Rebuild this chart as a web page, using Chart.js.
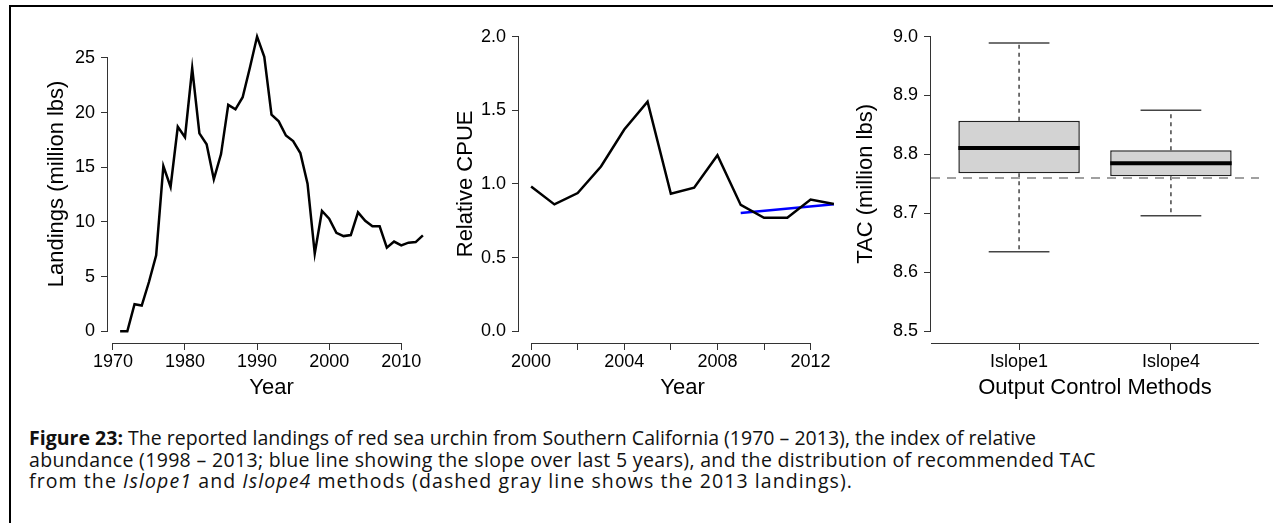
<!DOCTYPE html>
<html>
<head>
<meta charset="utf-8">
<script src="https://cdn.jsdelivr.net/npm/chart.js@4.4.1/dist/chart.umd.min.js"></script>
<style>
  html, body { margin: 0; padding: 0; background: #fff; }
  body { width: 1273px; height: 523px; position: relative; overflow: hidden; }
  .frame {
    position: absolute; left: 9px; top: 5px; right: 0; bottom: 0;
    border-top: 2px solid #000; border-left: 2px solid #000;
  }
  canvas { position: absolute; top: 8px; }
  #landingsChart { left: 12px; }
  #cpueChart { left: 423px; }
  #tacChart { left: 835px; }
  .caption {
    position: absolute; left: 29px; top: 427px;
    font-family: "Open Sans", Lato, sans-serif; font-size: 19.5px; line-height: 21.7px;
    color: #111; white-space: nowrap;
  }
  .caption span { display: block; width: max-content; }
</style>
</head>
<body>
<div class="frame"></div>
<canvas id="landingsChart" width="427" height="395"></canvas>
<canvas id="cpueChart" width="427" height="395"></canvas>
<canvas id="tacChart" width="428" height="395"></canvas>
<div class="caption">
  <span><b>Figure 23:</b> The reported landings of red sea urchin from Southern California (1970 – 2013), the index of relative</span>
  <span>abundance (1998 – 2013; blue line showing the slope over last 5 years), and the distribution of recommended TAC</span>
  <span>from the <i>Islope1</i> and <i>Islope4</i> methods (dashed gray line shows the 2013 landings).</span>
</div>
<script>
/* ===============================
   DATA
================================ */
const landingYears = [1971, 1972, 1973, 1974, 1975, 1976, 1977, 1978, 1979, 1980, 1981, 1982, 1983, 1984, 1985,
  1986, 1987, 1988, 1989, 1990, 1991, 1992, 1993, 1994, 1995, 1996, 1997, 1998, 1999, 2000, 2001, 2002, 2003,
  2004, 2005, 2006, 2007, 2008, 2009, 2010, 2011, 2012, 2013];
const landings = [0, 0, 2.47, 2.35, 4.5, 6.94, 15.1, 13.2, 18.7, 17.75, 24.05, 18.1, 17.1, 13.9, 16.2,
  20.7, 20.3, 21.4, 24.1, 26.95, 25.1, 19.8, 19.2, 17.9, 17.4, 16.3, 13.5, 7.1, 11.0, 10.3, 9.0, 8.7, 8.8,
  10.87, 10.1, 9.6, 9.6, 7.64, 8.2, 7.85, 8.1, 8.15, 8.77];
const landingXTicks = [1970, 1980, 1990, 2000, 2010];
const landingYTicks = [0, 5, 10, 15, 20, 25];

const cpueYears = [2000, 2001, 2002, 2003, 2004, 2005, 2006, 2007, 2008, 2009, 2010, 2011, 2012, 2013];
const cpue = [0.983, 0.861, 0.938, 1.118, 1.369, 1.558, 0.933, 0.974, 1.195, 0.857, 0.77, 0.77, 0.894, 0.864];
const slopeYears = [2009, 2013];
const slopeValues = [0.803, 0.862];
const cpueXTicks = [2000, 2002, 2004, 2006, 2008, 2010, 2012];
const cpueXLabels = [2000, 2004, 2008, 2012];
const cpueYTicks = [0, 0.5, 1.0, 1.5, 2.0];

const methods = ['Islope1', 'Islope4'];
const tacLower = [8.635, 8.696];
const tacQ1 = [8.768, 8.763];
const tacMedian = [8.811, 8.785];
const tacQ3 = [8.857, 8.807];
const tacUpper = [8.989, 8.875];
const landings2013 = 8.76;
const tacYTicks = [8.5, 8.6, 8.7, 8.8, 8.9, 9.0];

/* ===============================
   CAPTION FIT (line widths as in the figure)
================================ */
const captionWidths = [1007, 1067, 824];
document.querySelectorAll('.caption span').forEach((el, i) => {
  const w = el.getBoundingClientRect().width;
  const n = el.textContent.length;
  el.style.letterSpacing = ((captionWidths[i] - w) / n).toFixed(3) + 'px';
});

/* ===============================
   SHARED LOOK
================================ */
Chart.defaults.font.family = "'Liberation Sans', Arial, sans-serif";
Chart.defaults.color = '#000';

const AXIS = '#333';
const BOX_HALF = 0.4;
const CAP_HALF = 0.2;
const TICK_FONT = { family: "'Liberation Sans', Arial, sans-serif", size: 18 };
const TITLE_FONT = { family: "'Liberation Sans', Arial, sans-serif", size: 22 };

// R style axis lines: only from first to last tick
const rAxisLines = {
  id: 'rAxisLines',
  afterDraw(chart, args, opts) {
    const { ctx, chartArea } = chart;
    const xs = chart.scales.x;
    const ys = chart.scales.y;
    const yPix = ys.ticks.map((t) => ys.getPixelForValue(t.value));
    const xPix = xs.ticks.map((t) => xs.getPixelForValue(t.value));
    const left = Math.round(chartArea.left) - 0.5;
    const bottom = Math.round(chartArea.bottom) + 0.5;
    ctx.save();
    ctx.strokeStyle = AXIS;
    ctx.lineWidth = 1;
    ctx.beginPath();
    ctx.moveTo(left, Math.min(...yPix));
    ctx.lineTo(left, Math.max(...yPix));
    if (opts.fullX) {
      ctx.moveTo(chartArea.left, bottom);
      ctx.lineTo(chartArea.right, bottom);
    } else {
      ctx.moveTo(Math.min(...xPix), bottom);
      ctx.lineTo(Math.max(...xPix), bottom);
    }
    ctx.stroke();
    ctx.restore();
  },
};

function xAxis(min, max, ticks, label, fmt) {
  return {
    type: 'linear',
    min: min,
    max: max,
    offset: false,
    afterBuildTicks: (s) => { s.ticks = ticks.map((v) => ({ value: v })); },
    afterFit: (s) => { s.height = 60; },
    border: { display: false },
    grid: { offset: false, drawOnChartArea: false, tickLength: 7, color: AXIS },
    ticks: { autoSkip: false, maxRotation: 0, padding: 1, font: TICK_FONT, color: '#000', callback: fmt },
    title: { display: true, text: label, font: TITLE_FONT, color: '#000', padding: { top: 0, bottom: 2 } },
  };
}

function yAxis(min, max, ticks, label, fmt, titleGap) {
  return {
    type: 'linear',
    min: min,
    max: max,
    afterBuildTicks: (s) => { s.ticks = ticks.map((v) => ({ value: v })); },
    afterFit: (s) => { s.width = 96; },
    border: { display: false },
    grid: { drawOnChartArea: false, tickLength: 7, color: AXIS },
    ticks: { padding: 6, font: TICK_FONT, color: '#000', callback: fmt },
    title: { display: true, text: label, font: TITLE_FONT, color: '#000', padding: { top: titleGap, bottom: 0 } },
  };
}

function baseOptions(fullX) {
  return {
    responsive: false,
    animation: false,
    devicePixelRatio: 1,
    layout: { padding: { top: 16, right: 4, left: 0, bottom: 0 } },
    plugins: { legend: { display: false }, tooltip: { enabled: false }, rAxisLines: { fullX: fullX } },
  };
}

// R pads every axis range by 4%
function padRange(lo, hi) {
  const d = (hi - lo) * 0.04;
  return [lo - d, hi + d];
}

/* ===============================
   LANDINGS
================================ */
const lx = padRange(landingYears[0], landingYears[landingYears.length - 1]);
const ly = padRange(0, Math.max(...landings));

new Chart(document.getElementById('landingsChart'), {
  type: 'line',
  data: {
    datasets: [{
      data: landingYears.map((yr, i) => ({ x: yr, y: landings[i] })),
      borderColor: '#000',
      borderWidth: 2.5,
      pointRadius: 0,
      tension: 0,
    }],
  },
  options: {
    ...baseOptions(false),
    scales: {
      x: xAxis(lx[0], lx[1], landingXTicks, 'Year', (v) => String(v)),
      y: yAxis(ly[0], ly[1], landingYTicks, 'Landings (million lbs)', (v) => String(v), 32),
    },
  },
  plugins: [rAxisLines],
});

/* ===============================
   RELATIVE CPUE
================================ */
const cx = padRange(cpueYears[0], cpueYears[cpueYears.length - 1]);
const cy = padRange(0, 2);

new Chart(document.getElementById('cpueChart'), {
  type: 'line',
  data: {
    datasets: [
      {
        data: cpueYears.map((yr, i) => ({ x: yr, y: cpue[i] })),
        borderColor: '#000',
        borderWidth: 2.5,
        pointRadius: 0,
        tension: 0,
      },
      {
        data: slopeYears.map((yr, i) => ({ x: yr, y: slopeValues[i] })),
        borderColor: '#0000ff',
        borderWidth: 2.5,
        pointRadius: 0,
      },
    ],
  },
  options: {
    ...baseOptions(false),
    scales: {
      x: xAxis(cx[0], cx[1], cpueXTicks, 'Year', (v) => (cpueXLabels.includes(v) ? String(v) : '')),
      y: yAxis(cy[0], cy[1], cpueYTicks, 'Relative CPUE', (v) => v.toFixed(1), 30),
    },
  },
  plugins: [rAxisLines],
});

/* ===============================
   TAC BOXPLOTS
================================ */
const bx = padRange(0.5, methods.length + 0.5);
const by = padRange(8.5, 9.0);

function segments(list) {
  // list of [x1, y1, x2, y2] -> points with gaps
  const pts = [];
  list.forEach((s) => {
    pts.push({ x: s[0], y: s[1] }, { x: s[2], y: s[3] }, { x: s[2], y: null });
  });
  return pts;
}

const whiskerSegs = [];
const capSegs = [];
const medianSegs = [];
methods.forEach((m, i) => {
  const c = i + 1;
  whiskerSegs.push([c, tacQ3[i], c, tacUpper[i]], [c, tacQ1[i], c, tacLower[i]]);
  capSegs.push([c - CAP_HALF, tacUpper[i], c + CAP_HALF, tacUpper[i]]);
  capSegs.push([c - CAP_HALF, tacLower[i], c + CAP_HALF, tacLower[i]]);
  medianSegs.push([c - BOX_HALF, tacMedian[i], c + BOX_HALF, tacMedian[i]]);
});

new Chart(document.getElementById('tacChart'), {
  type: 'bar',
  data: {
    datasets: [
      {
        type: 'line',
        order: 0,
        data: [{ x: bx[0], y: landings2013 }, { x: bx[1], y: landings2013 }],
        borderColor: '#a0a0a0',
        borderWidth: 2,
        borderDash: [9, 7],
        pointRadius: 0,
      },
      {
        type: 'line',
        order: 1,
        data: segments(medianSegs),
        borderColor: '#000',
        borderWidth: 4,
        borderCapStyle: 'butt',
        pointRadius: 0,
        spanGaps: false,
      },
      {
        order: 2,
        data: methods.map((m, i) => ({ x: i + 1, y: [tacQ1[i], tacQ3[i]] })),
        backgroundColor: '#d3d3d3',
        borderColor: '#222',
        borderWidth: 1.5,
        borderSkipped: false,
        categoryPercentage: 1,
        barPercentage: BOX_HALF * 2,
      },
      {
        type: 'line',
        order: 3,
        data: segments(whiskerSegs),
        borderColor: '#444',
        borderWidth: 1.5,
        borderDash: [4, 4],
        pointRadius: 0,
        spanGaps: false,
      },
      {
        type: 'line',
        order: 3,
        data: segments(capSegs),
        borderColor: '#444',
        borderWidth: 1.5,
        pointRadius: 0,
        spanGaps: false,
      },
    ],
  },
  options: {
    ...baseOptions(true),
    scales: {
      x: xAxis(bx[0], bx[1], [1, 2], 'Output Control Methods', (v) => methods[v - 1]),
      y: yAxis(by[0], by[1], tacYTicks, 'TAC (million lbs)', (v) => v.toFixed(1), 18),
    },
  },
  plugins: [rAxisLines],
});
</script>
</body>
</html>
